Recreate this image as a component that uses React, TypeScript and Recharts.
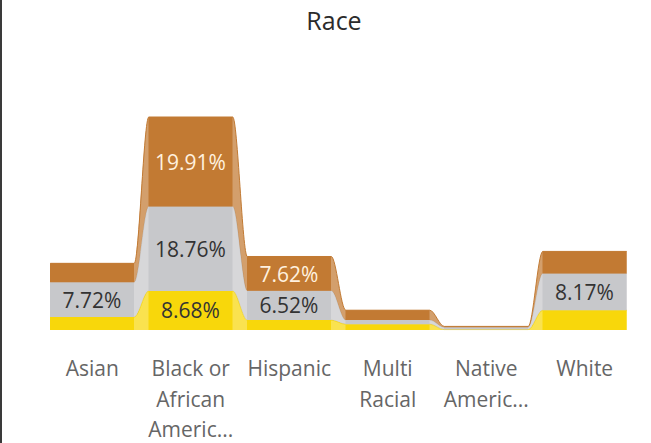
import React from "react";
import { ComposedChart, Bar, Area, XAxis, YAxis, LabelList } from "recharts";

const categories = ["Asian", "Black or African American", "Hispanic", "Multi Racial", "Native American", "White"];
const tickLines = [["Asian"], ["Black or", "African", "Americ..."], ["Hispanic"], ["Multi", "Racial"], ["Native", "Americ..."], ["White"]];
const yellowValues = [2.9, 8.68, 2.2, 1.3, 0.1, 4.4];
const grayValues = [7.72, 18.76, 6.52, 0.9, 0.5, 8.17];
const brownValues = [4.2, 19.91, 7.62, 2.2, 0.2, 4.9];

const BROWN = "#C27A33";
const GRAY = "#C7C8CB";
const YELLOW = "#F8D70B";
const FONT = "'Open Sans', 'Noto Sans', sans-serif";

const W = 651;
const H = 443;
const MARGIN = { top: 117, right: 17, left: 43 };
const AXIS_H = 100;
const HALF_BAR = 0.426; // bar half width as fraction of category step

const barData = categories.map((name, i) => ({
  name,
  yellow: yellowValues[i],
  gray: grayValues[i],
  brown: brownValues[i],
}));

// ribbons: two points per category at the bar edges, curves in between
const ribbonData = categories.flatMap((_, i) => [
  { x: i - HALF_BAR, yellow: yellowValues[i], gray: grayValues[i], brown: brownValues[i] },
  { x: i + HALF_BAR, yellow: yellowValues[i], gray: grayValues[i], brown: brownValues[i] },
]);

const yMax = Math.max(...categories.map((_, i) => yellowValues[i] + grayValues[i] + brownValues[i]));

const makeLabel = (fill: string) => (props: any) => {
  const { x, y, width, height } = props;
  let value = props.value;
  if (Array.isArray(value)) value = value[1] - value[0];
  if (height == null || height < 26) return null;
  return (
    <text
      x={x + width / 2}
      y={y + height / 2}
      textAnchor="middle"
      dominantBaseline="central"
      fill={fill}
      fontSize={21}
      fontFamily={FONT}
    >
      {Number(value).toFixed(2)}%
    </text>
  );
};

const CategoryTick = (props: any) => {
  const { x, y, index } = props;
  const lines = tickLines[index] || [];
  return (
    <g>
      {lines.map((l, k) => (
        <text key={k} x={x} y={y + 44 + k * 30.5} textAnchor="middle" fill="#666" fontSize={21} fontFamily={FONT}>
          {l}
        </text>
      ))}
    </g>
  );
};

export default function App() {
  return (
    <div style={{ position: "fixed", left: 0, top: 0, width: W, height: H, background: "#fff", overflow: "hidden" }}>
      <div style={{ position: "absolute", left: 0, top: 0, width: 2, height: H, background: "#3a3a3a" }} />
      <div
        style={{
          position: "absolute",
          left: 0,
          top: 3,
          width: 668,
          textAlign: "center",
          fontFamily: FONT,
          fontSize: 25,
          fontWeight: 500,
          color: "#2b2b2b",
        }}
      >
        Race
      </div>
      <div style={{ position: "absolute", left: 0, top: 0 }}>
        <ComposedChart
          width={W}
          height={H}
          data={ribbonData}
          margin={{ ...MARGIN, bottom: H - 330 }}
        >
          <XAxis type="number" dataKey="x" domain={[-0.5, 5.5]} hide />
          <YAxis domain={[0, yMax]} hide />
          <Area type="monotone" dataKey="yellow" stackId="r" fill={YELLOW} fillOpacity={0.72} stroke={YELLOW} strokeWidth={1} isAnimationActive={false} />
          <Area type="monotone" dataKey="gray" stackId="r" fill={GRAY} fillOpacity={0.72} stroke={GRAY} strokeWidth={1} isAnimationActive={false} />
          <Area type="monotone" dataKey="brown" stackId="r" fill={BROWN} fillOpacity={0.72} stroke={BROWN} strokeWidth={1} isAnimationActive={false} />
        </ComposedChart>
      </div>
      <div style={{ position: "absolute", left: 0, top: 0 }}>
        <ComposedChart
          width={W}
          height={H}
          data={barData}
          barSize={84}
          margin={{ ...MARGIN, bottom: H - 330 - AXIS_H }}
        >
          <XAxis
            dataKey="name"
            height={AXIS_H}
            axisLine={false}
            tickLine={false}
            tickSize={0}
            interval={0}
            tick={<CategoryTick />}
          />
          <YAxis domain={[0, yMax]} hide />
          <Bar dataKey="yellow" stackId="b" fill={YELLOW} isAnimationActive={false}>
            <LabelList dataKey="yellow" content={makeLabel("#333")} />
          </Bar>
          <Bar dataKey="gray" stackId="b" fill={GRAY} isAnimationActive={false}>
            <LabelList dataKey="gray" content={makeLabel("#333")} />
          </Bar>
          <Bar dataKey="brown" stackId="b" fill={BROWN} isAnimationActive={false}>
            <LabelList dataKey="brown" content={makeLabel("#FFF1DF")} />
          </Bar>
        </ComposedChart>
      </div>
    </div>
  );
}
